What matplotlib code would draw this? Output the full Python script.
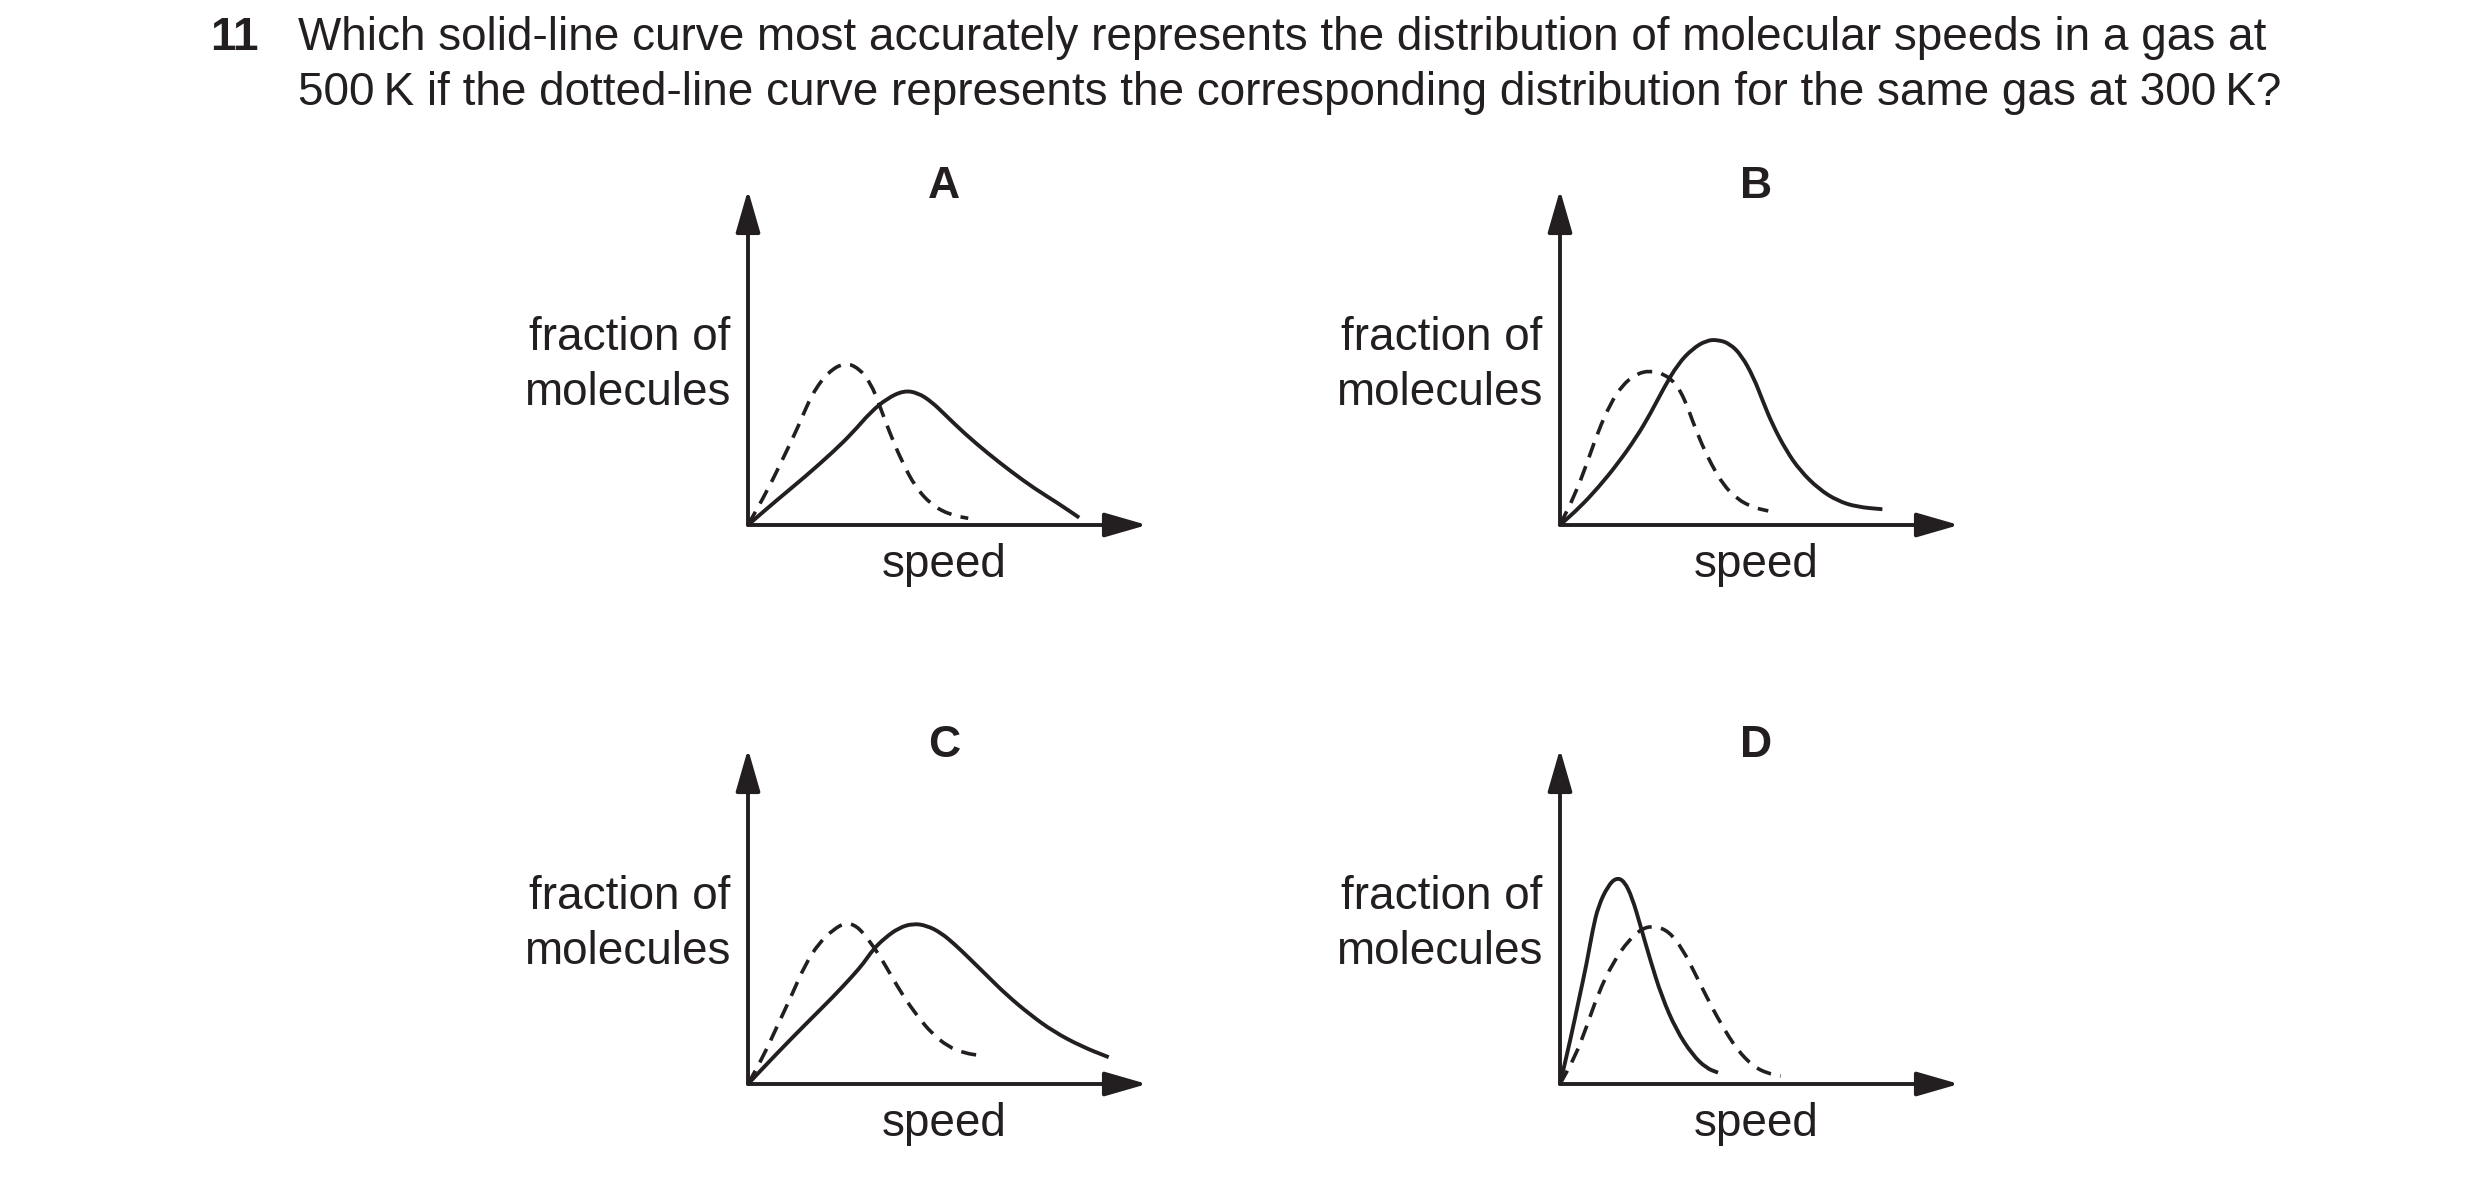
import matplotlib
matplotlib.use("Agg")
import matplotlib.pyplot as plt
from matplotlib.patches import FancyArrowPatch, PathPatch
from matplotlib.path import Path

plt.rcParams['font.family'] = ['Liberation Sans', 'DejaVu Sans']

INK = '#231f20'
W, H = 2480, 1187

# curves, axes run 0..10 (arrow tip = 10)
a_solid_x = [0, 0.73, 1.43, 2.14, 2.61, 3.08, 3.49, 3.90, 4.25, 4.60, 4.95, 5.42, 6.01, 6.60, 7.18, 7.77, 8.30]
a_solid_y = [0, 0.75, 1.44, 2.19, 2.74, 3.38, 3.78, 4.01, 3.95, 3.68, 3.28, 2.74, 2.14, 1.59, 1.09, 0.65, 0.22]
a_dash_x = [0, 0.49, 0.90, 1.26, 1.61, 2.02, 2.43, 2.78, 3.08, 3.31, 3.54, 3.84, 4.19, 4.60, 5.07, 5.52]
a_dash_y = [0, 1.04, 2.04, 2.94, 3.93, 4.58, 4.85, 4.68, 4.23, 3.53, 2.79, 1.94, 1.14, 0.60, 0.30, 0.20]

b_solid_x = [0, 0.49, 0.96, 1.44, 1.91, 2.26, 2.61, 2.96, 3.32, 3.67, 3.96, 4.26, 4.55, 4.85, 5.08, 5.32, 5.67, 6.02, 6.49, 6.96, 7.44, 8.08]
b_solid_y = [0, 0.52, 1.12, 1.82, 2.61, 3.31, 4.11, 4.81, 5.26, 5.51, 5.53, 5.41, 5.06, 4.41, 3.71, 3.01, 2.22, 1.62, 1.07, 0.72, 0.54, 0.47]
b_dash_x = [0, 0.38, 0.67, 0.96, 1.26, 1.55, 1.91, 2.26, 2.61, 2.91, 3.14, 3.32, 3.55, 3.79, 4.08, 4.44, 4.85, 5.22]
b_dash_y = [0, 0.92, 1.82, 2.81, 3.61, 4.16, 4.51, 4.61, 4.51, 4.21, 3.71, 3.11, 2.42, 1.82, 1.22, 0.77, 0.52, 0.42]

c_solid_x = [0, 0.73, 1.43, 2.14, 2.61, 2.90, 3.13, 3.43, 3.78, 4.13, 4.48, 4.84, 5.19, 5.54, 6.01, 6.48, 7.07, 7.65, 8.36, 9.04]
c_solid_y = [0, 0.92, 1.77, 2.61, 3.21, 3.61, 4.01, 4.36, 4.66, 4.79, 4.73, 4.51, 4.16, 3.76, 3.21, 2.66, 2.07, 1.57, 1.12, 0.80]
c_dash_x = [0, 0.38, 0.73, 1.08, 1.43, 1.78, 2.14, 2.43, 2.72, 3.02, 3.31, 3.60, 3.90, 4.25, 4.60, 5.01, 5.42, 5.89]
c_dash_y = [0, 0.82, 1.72, 2.61, 3.56, 4.21, 4.61, 4.81, 4.73, 4.31, 3.81, 3.21, 2.61, 2.02, 1.52, 1.12, 0.92, 0.84]

d_solid_x = [0, 0.26, 0.49, 0.67, 0.82, 0.96, 1.20, 1.41, 1.61, 1.81, 2.02, 2.26, 2.55, 2.91, 3.32, 3.67, 3.96]
d_solid_y = [0, 1.32, 2.61, 3.61, 4.61, 5.31, 5.91, 6.16, 6.06, 5.56, 4.71, 3.71, 2.61, 1.62, 0.87, 0.47, 0.34]
d_dash_x = [0, 0.38, 0.67, 0.96, 1.32, 1.73, 2.08, 2.38, 2.73, 3.08, 3.38, 3.67, 4.02, 4.44, 4.85, 5.20, 5.53]
d_dash_y = [0, 0.82, 1.72, 2.71, 3.61, 4.31, 4.66, 4.71, 4.56, 4.01, 3.31, 2.61, 1.82, 1.02, 0.52, 0.32, 0.24]

panel_names = ['A', 'B', 'C', 'D']
question_num = '11'
question_lines = [
    'Which solid-line curve most accurately represents the distribution of molecular speeds in a gas at',
    '500\u2009K if the dotted-line curve represents the corresponding distribution for the same gas at 300\u2009K?',
]

curves = {
    'A': (a_solid_x, a_solid_y, a_dash_x, a_dash_y),
    'B': (b_solid_x, b_solid_y, b_dash_x, b_dash_y),
    'C': (c_solid_x, c_solid_y, c_dash_x, c_dash_y),
    'D': (d_solid_x, d_solid_y, d_dash_x, d_dash_y),
}

# origin of each little graph, in pixels of the output picture
origins = {'A': (748, 525), 'B': (1560, 525), 'C': (748, 1084), 'D': (1560, 1084)}
AX_W, AX_H = 399, 335


def fx(px):
    return px / W


def fy(py):
    return 1 - py / H


def smooth_path(xs, ys):
    # quadratic bezier through the midpoints, read points act as control points
    pts = list(zip(xs, ys))
    verts = [pts[0]]
    codes = [Path.MOVETO]
    mid = lambda p, q: ((p[0] + q[0]) / 2, (p[1] + q[1]) / 2)
    verts.append(mid(pts[0], pts[1]))
    codes.append(Path.LINETO)
    for i in range(1, len(pts) - 1):
        verts += [pts[i], mid(pts[i], pts[i + 1])]
        codes += [Path.CURVE3, Path.CURVE3]
    verts.append(pts[-1])
    codes.append(Path.LINETO)
    return Path(verts, codes)


fig = plt.figure(figsize=(W / 100, H / 100), dpi=100)

# question text
fig.text(fx(210), fy(50), question_num, fontsize=33, fontweight='bold', color=INK, va='baseline', ha='left')
fig.text(fx(298), fy(50), question_lines[0], fontsize=33, color=INK, va='baseline', ha='left')
fig.text(fx(298), fy(105), question_lines[1], fontsize=33, color=INK, va='baseline', ha='left')

for name in panel_names:
    ox, oy = origins[name]
    ax = fig.add_axes([fx(ox), fy(oy), AX_W / W, AX_H / H])
    ax.set_xlim(0, 10)
    ax.set_ylim(0, 10)
    ax.axis('off')

    sx, sy, dx, dy = curves[name]
    ax.add_patch(PathPatch(smooth_path(dx, dy), fill=False, edgecolor=INK, lw=2.6,
                           ls=(0, (4.2, 2.6)), clip_on=False, capstyle='butt'))
    ax.add_patch(PathPatch(smooth_path(sx, sy), fill=False, edgecolor=INK, lw=2.8,
                           clip_on=False, joinstyle='round', capstyle='butt'))

    # axes with arrow heads
    for end in [(1, 0), (0, 1)]:
        arr = FancyArrowPatch((0, 0), end, transform=ax.transAxes,
                              arrowstyle='-|>,head_length=26,head_width=7.5',
                              mutation_scale=1, lw=2.8, color=INK,
                              shrinkA=0, shrinkB=0, clip_on=False)
        ax.add_patch(arr)

    fig.text(fx(ox - 18), fy(oy - 175), 'fraction of', fontsize=33, color=INK, ha='right', va='baseline')
    fig.text(fx(ox - 18), fy(oy - 120), 'molecules', fontsize=33, color=INK, ha='right', va='baseline')
    fig.text(fx(ox + 196), fy(oy + 52), 'speed', fontsize=33, color=INK, ha='center', va='baseline')
    fig.text(fx(ox + 196), fy(oy - 327), name, fontsize=32, fontweight='bold', color=INK, ha='center', va='baseline')

fig.savefig('out.png', dpi=100)
